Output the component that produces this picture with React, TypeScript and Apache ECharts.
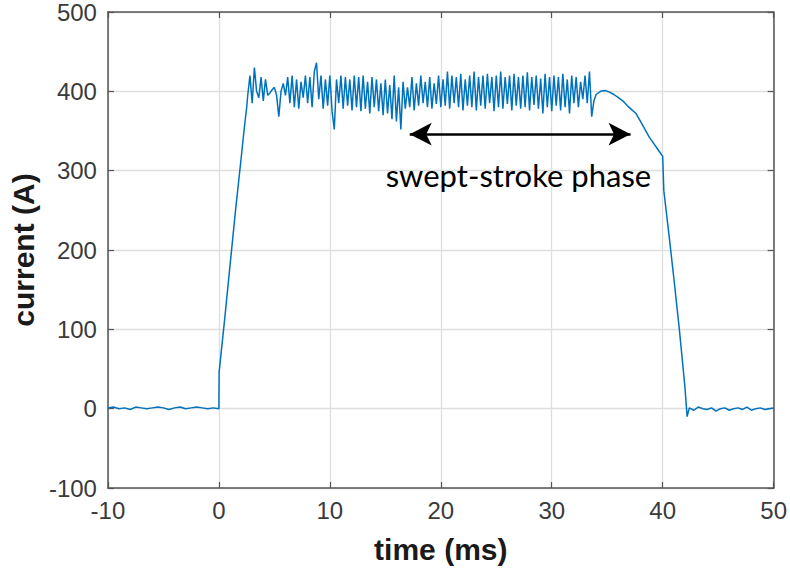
import React, { useEffect, useRef } from "react";
import * as echarts from "echarts";

// time axis ticks
const xTicks = [-10, 0, 10, 20, 30, 40, 50];
const yTicks = [-100, 0, 100, 200, 300, 400, 500];

// baseline before pulse: t = -10 .. 0, step 0.5 ms
const baselineStart = -10;
const baselineStep = 0.5;
const baselineBefore = [1, 2, 0, 1, -1, 2, 1, 0, 1, 2, 1, -1, 1, 2, 0, 1, 2, 1, 0, 1, 0];

// rise [t, A]
const risePts: [number, number][] = [
  [0.02, 46], [0.5, 110], [1.0, 180], [1.5, 250], [2.0, 315], [2.3, 355], [2.5, 379],
];

// plateau: t = 2.6 .. 33.6, step 0.2 ms
const plateauStart = 2.6;
const plateauStep = 0.2;
const plateau = [
  395, 420, 385, 430, 400, 392, 418, 388, 415, 395,
  398, 402, 405, 395, 368, 400, 410, 395, 418, 385,
  420, 380, 415, 378, 412, 392, 420, 385, 418, 380,
  425, 436, 390, 420, 378, 415, 382, 420, 375, 352,
  415, 385, 420, 378, 418, 382, 415, 376, 420, 380,
  418, 375, 420, 378, 412, 372, 418, 380, 415, 375,
  410, 370, 415, 372, 408, 365, 420, 362, 405, 352,
  412, 378, 405, 380, 418, 376, 410, 382, 420, 385,
  412, 380, 418, 378, 410, 384, 420, 380, 415, 382,
  425, 378, 420, 385, 418, 380, 422, 376, 415, 382,
  420, 380, 425, 376, 418, 382, 420, 378, 422, 385,
  418, 375, 420, 380, 425, 378, 418, 384, 420, 376,
  422, 382, 418, 378, 420, 380, 424, 376, 418, 383,
  420, 378, 416, 372, 422, 380, 418, 375, 420, 382,
  418, 376, 422, 380, 415, 372, 420, 385, 418, 380,
  412, 390, 420, 385, 425, 368,
];

// decay and fall [t, A]
const fallPts: [number, number][] = [
  [33.8, 388], [34.0, 396], [34.4, 400], [34.8, 401], [35.2, 399], [35.6, 396],
  [36.0, 392], [36.4, 388], [36.8, 382], [37.2, 377], [37.6, 372], [38.0, 362],
  [38.4, 352], [38.8, 342], [39.2, 334], [39.6, 326], [40.0, 318], [40.1, 275],
  [40.6, 215], [41.0, 165], [41.5, 100], [42.0, 28], [42.2, -10],
];

// baseline after pulse: t = 42.4 .. 50, step 0.4 ms
const afterStart = 42.4;
const afterStep = 0.4;
const baselineAfter = [1, -2, 2, 0, -1, 1, -3, 0, 1, -2, 0, 1, -1, 2, -2, 0, 1, -1, 0, 1];

// annotation
const arrowFrom: [number, number] = [17.2, 346];
const arrowTo: [number, number] = [37.1, 346];
const annotationText = "swept-stroke phase";
const annotationAt: [number, number] = [27.0, 294];

function buildSeries(): [number, number][] {
  const out: [number, number][] = [];
  baselineBefore.forEach((v, i) => out.push([+(baselineStart + i * baselineStep).toFixed(2), v]));
  risePts.forEach((p) => out.push(p));
  plateau.forEach((v, i) => out.push([+(plateauStart + i * plateauStep).toFixed(2), v]));
  fallPts.forEach((p) => out.push(p));
  baselineAfter.forEach((v, i) => out.push([+(afterStart + i * afterStep).toFixed(2), v]));
  return out;
}

export default function App() {
  const ref = useRef<HTMLDivElement>(null);
  useEffect(() => {
    if (!ref.current) return;
    const chart = echarts.init(ref.current, undefined, { renderer: "svg" });
    const axisColor = "#555555";
    const labelColor = "#3a3a3a";
    const font = "'Liberation Sans', Arial, sans-serif";
    const common = {
      type: "value" as const,
      axisLine: { show: true, onZero: false, lineStyle: { color: axisColor, width: 1.5 } },
      axisTick: { show: true, inside: true, length: 6, lineStyle: { color: axisColor, width: 1.2 } },
    };
    chart.setOption({
      animation: false,
      backgroundColor: "#ffffff",
      grid: { left: 103, top: 10, width: 672, height: 480, containLabel: false },
      xAxis: [
        {
          ...common,
          position: "bottom",
          min: xTicks[0],
          max: xTicks[xTicks.length - 1],
          interval: 10,
          name: "time (ms)",
          nameLocation: "middle",
          nameGap: 46,
          nameTextStyle: { fontFamily: font, fontWeight: "bold", fontSize: 30, color: "#1a1a1a" },
          axisLabel: { fontFamily: font, fontSize: 24, color: labelColor, margin: 10 },
          splitLine: { show: true, lineStyle: { color: "#dedede", width: 1.3 } },
        },
        {
          ...common,
          position: "top",
          min: xTicks[0],
          max: xTicks[xTicks.length - 1],
          interval: 10,
          axisLabel: { show: false },
          splitLine: { show: false },
        },
      ],
      yAxis: [
        {
          ...common,
          position: "left",
          min: yTicks[0],
          max: yTicks[yTicks.length - 1],
          interval: 100,
          name: "current (A)",
          nameLocation: "middle",
          nameGap: 62,
          nameTextStyle: { fontFamily: font, fontWeight: "bold", fontSize: 30, color: "#1a1a1a" },
          axisLabel: { fontFamily: font, fontSize: 24, color: labelColor, margin: 11 },
          splitLine: { show: true, lineStyle: { color: "#dedede", width: 1.3 } },
        },
        {
          ...common,
          position: "right",
          min: yTicks[0],
          max: yTicks[yTicks.length - 1],
          interval: 100,
          axisLabel: { show: false },
          splitLine: { show: false },
        },
      ],
      series: [
        {
          type: "line",
          data: buildSeries(),
          showSymbol: false,
          symbol: "none",
          lineStyle: { color: "#0072BD", width: 1.5 },
          z: 3,
          markLine: {
            silent: true,
            symbol: ["arrow", "arrow"],
            symbolSize: [17, 22],
            label: { show: false },
            lineStyle: { color: "#000000", width: 2.5, type: "solid" },
            emphasis: { disabled: true },
            data: [[{ coord: arrowFrom }, { coord: arrowTo }]],
          },
          markPoint: {
            silent: true,
            symbol: "circle",
            symbolSize: 0,
            data: [{ coord: annotationAt, value: annotationText }],
            label: {
              show: true,
              position: "inside",
              formatter: annotationText,
              fontFamily: "Lato, 'Open Sans', sans-serif",
              fontSize: 31,
              color: "#000000",
            },
          },
        },
      ],
    });
    return () => chart.dispose();
  }, []);
  return (
    <div
      ref={ref}
      style={{ position: "fixed", left: 0, top: 0, width: 790, height: 569, background: "#fff" }}
    />
  );
}
